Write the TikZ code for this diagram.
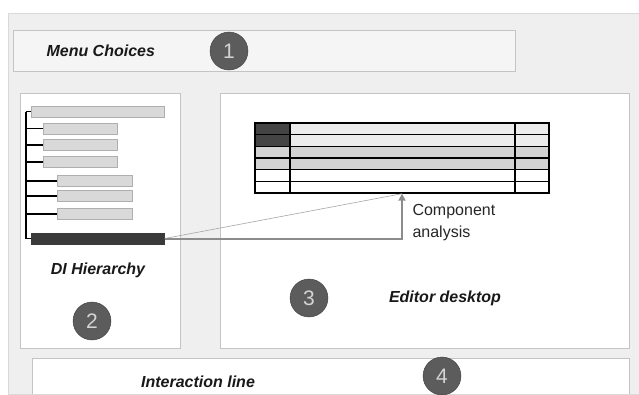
\documentclass[tikz,border=0pt]{standalone}
\usepackage{fontspec}
\setmainfont{Liberation Sans}
\usetikzlibrary{arrows.meta,positioning,calc}

\definecolor{backgray}{HTML}{EFEFEF}
\definecolor{edgegray}{HTML}{C4C4C4}
\definecolor{bargray}{HTML}{D9D9D9}
\definecolor{baredge}{HTML}{AFAFAF}
\definecolor{darkbar}{HTML}{3A3A3A}
\definecolor{badgefill}{HTML}{5C5C5C}
\definecolor{badgetext}{HTML}{D4D4D4}
\definecolor{rowlight}{HTML}{ECECEC}
\definecolor{rowmid}{HTML}{D3D3D3}
\definecolor{flowgray}{HTML}{8C8C8C}

\begin{document}
\begin{tikzpicture}[x=1pt,y=-1pt,
    panel/.style={draw=edgegray,fill=white,line width=0.8pt},
    title/.style={font=\fontsize{16}{18}\selectfont\bfseries\itshape,text=black!90},
    badge/.style={circle,draw=black!75,fill=badgefill,text=badgetext,minimum size=38pt,inner sep=0pt,font=\fontsize{21}{23}\selectfont},
    hbar/.style={draw=baredge,fill=bargray,minimum height=11pt,inner sep=0pt,anchor=west,line width=0.6pt},
    tree/.style={black,line width=1.4pt},
    flow/.style={flowgray,line width=2pt,-{Triangle[length=7pt,width=7pt]}}]
    \useasboundingbox (0,0) rectangle (639,394);
    \fill[white] (0,0) rectangle (639,394);
    \filldraw[fill=backgray,draw=black!15,line width=0.8pt] (639,13) -- (8,13) -- (8,394) -- (639,394);

    % panels
    \node[draw=edgegray,fill=black!4,line width=0.8pt,minimum width=502pt,minimum height=41pt,inner sep=0pt] (menu) at (264,50.5) {};
    \node[panel,minimum width=160pt,minimum height=255pt,inner sep=0pt] (left) at (100,220.5) {};
    \node[panel,minimum width=409pt,minimum height=255pt,inner sep=0pt] (editor) at (424.5,220.5) {};
    \fill[white] (32,358) rectangle (629,394);
    \draw[edgegray,line width=0.8pt] (32,394) |- (629,358) -- (629,394);

    \node[title,anchor=west] (menutext) at (43,51) {Menu Choices};
    \node[title] (dh) at (98,270) {DI Hierarchy};
    \node[title] (ed) at (445,298) {Editor desktop};
    \node[title] (il) at (198,382) {Interaction line};

    \node[badge] (b1) at (229,51) {1};
    \node[badge] (b2) at (92,321) {2};
    \node[badge] (b3) at (309,298) {3};
    \node[badge] (b4) at (442,376) {4};

    % hierarchy
    \node[hbar,minimum width=133pt] (h1) at (31,111.5) {};
    \node[hbar,minimum width=74pt] (h2) at (43,128.5) {};
    \node[hbar,minimum width=74pt] (h3) at (43,145) {};
    \node[hbar,minimum width=74pt] (h4) at (43,162) {};
    \node[hbar,minimum width=75pt] (h5) at (57,181) {};
    \node[hbar,minimum width=75pt] (h6) at (57,196) {};
    \node[hbar,minimum width=75pt] (h7) at (57,214) {};
    \node[hbar,draw=darkbar,fill=darkbar,minimum width=133pt] (hsel) at (31,238.5) {};
    \coordinate (trunk) at (26,111.5);
    \draw[tree] (trunk) -- (trunk|-hsel.west);
    \foreach \n in {h1,h2,h3,h4,h5,h6,h7,hsel}
        \draw[tree] (trunk|-\n.west) -- (\n.west);

    % component table
    \fill[rowlight] (255,123) rectangle (549,146.33);
    \fill[darkbar!95] (255,123) rectangle (290,146.33);
    \fill[rowmid] (255,146.33) rectangle (549,169.67);
    \foreach \i in {1,...,5}
        \draw[black,line width=1.2pt] (255,123+\i*70/6) -- (549,123+\i*70/6);
    \draw[black,line width=1.2pt] (290,123) -- (290,193);
    \draw[black,line width=1.2pt] (515,123) -- (515,193);
    \node[draw=black,line width=1.4pt,minimum width=294pt,minimum height=70pt,inner sep=0pt] (tbl) at (402,158) {};

    \draw[black!35,line width=0.6pt] (hsel.east) -- (tbl.south);
    \draw[flow] (hsel.east) -| (tbl.south);
    \node[anchor=north west,align=left,font=\fontsize{16}{22}\selectfont,text=black!85] (ca) at (409,201) {Component\\analysis};
\end{tikzpicture}
\end{document}
